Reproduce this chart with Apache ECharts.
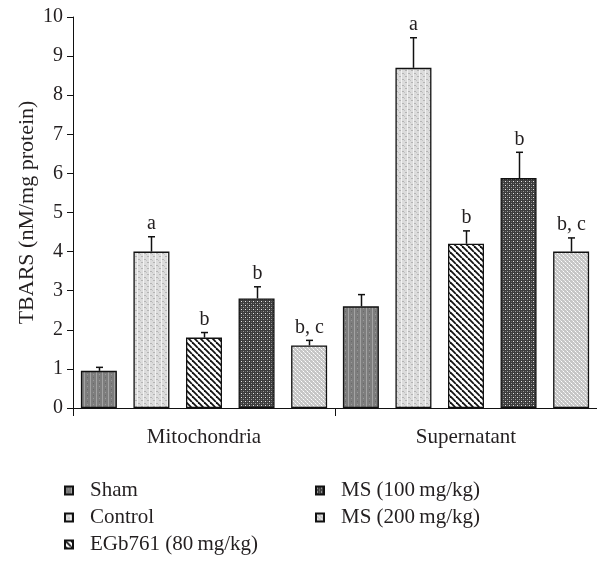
<!DOCTYPE html>
<html>
<head>
<meta charset="utf-8">
<script src="https://cdn.jsdelivr.net/npm/echarts@6/dist/echarts.min.js"></script>
<style>html,body{margin:0;padding:0;background:#fff;}#chart{width:597px;height:561px;}</style>
</head>
<body>
<div id="chart"></div>
<script>
const categories = ['Mitochondria', 'Supernatant'];
const seriesNames = ['Sham', 'Control', 'EGb761 (80\u2009mg/kg)', 'MS (100\u2009mg/kg)', 'MS (200\u2009mg/kg)'];
const shamValues = [0.95, 2.6];
const controlValues = [4.0, 8.7];
const egbValues = [1.8, 4.2];
const ms100Values = [2.8, 5.88];
const ms200Values = [1.6, 4.0];
const shamErr = [0.09, 0.3];
const controlErr = [0.38, 0.77];
const egbErr = [0.13, 0.33];
const ms100Err = [0.3, 0.66];
const ms200Err = [0.13, 0.35];
const shamLetters = ['', ''];
const controlLetters = ['a', 'a'];
const egbLetters = ['b', 'b'];
const ms100Letters = ['b', 'b'];
const ms200Letters = ['b, c', 'b, c'];
const yTicks = [0, 10, 1];

const FONT = '"Liberation Serif", "DejaVu Serif", serif';
const TXT = '#231f20';

function tile(size, draw) {
  const c = document.createElement('canvas');
  c.width = size; c.height = size;
  const ctx = c.getContext('2d');
  draw(ctx, size);
  return { image: c, repeat: 'repeat' };
}
function px(ctx, x, y, col) { ctx.fillStyle = col; ctx.fillRect(x, y, 1, 1); }

const patSham = tile(6, (ctx) => {
  ctx.fillStyle = '#7d7d7d'; ctx.fillRect(0, 0, 6, 6);
  ctx.fillStyle = '#a3a3a3'; ctx.fillRect(0, 0, 1, 6);
  px(ctx, 3, 2, '#9a9a9a'); px(ctx, 3, 5, '#6a6a6a');
});
const patControl = tile(6, (ctx) => {
  ctx.fillStyle = '#dcdcdc'; ctx.fillRect(0, 0, 6, 6);
  ctx.fillStyle = '#b4b4b4'; ctx.fillRect(0, 1, 2, 1); ctx.fillRect(3, 4, 2, 1);
  ctx.fillStyle = '#f2f2f2'; ctx.fillRect(5, 0, 1, 6);
  px(ctx, 2, 2, '#c4c4c4');
});
const patEgb = tile(6, (ctx, s) => {
  ctx.fillStyle = '#ffffff'; ctx.fillRect(0, 0, s, s);
  ctx.strokeStyle = '#111'; ctx.lineWidth = 1.8;
  for (let k = -2; k <= 2; k++) {
    ctx.beginPath(); ctx.moveTo(k * s, 0); ctx.lineTo(k * s + s, s); ctx.stroke();
  }
});
const patMs100 = tile(4, (ctx) => {
  ctx.fillStyle = '#3c3c3c'; ctx.fillRect(0, 0, 4, 4);
  px(ctx, 1, 1, '#e6e6e6'); px(ctx, 3, 3, '#9a9a9a'); px(ctx, 3, 1, '#666'); px(ctx, 1, 3, '#666');
});
const patMs200 = tile(4, (ctx) => {
  ctx.fillStyle = '#c6c6c6'; ctx.fillRect(0, 0, 4, 4);
  px(ctx, 1, 1, '#ffffff'); px(ctx, 3, 3, '#ffffff'); px(ctx, 2, 2, '#e4e4e4'); px(ctx, 0, 0, '#e4e4e4');
});

const patterns = [patSham, patControl, patEgb, patMs100, patMs200];
const valueSets = [shamValues, controlValues, egbValues, ms100Values, ms200Values];
const errSets = [shamErr, controlErr, egbErr, ms100Err, ms200Err];
const letterSets = [shamLetters, controlLetters, egbLetters, ms100Letters, ms200Letters];

const BAR_W = 0.1374;  // fraction of band
const BAR_GAP = 0.46;  // fraction of bar width
const STEP = BAR_W * (1 + BAR_GAP);

const series = [];
seriesNames.forEach((name, i) => {
  series.push({
    name: name,
    type: 'bar',
    data: valueSets[i],
    barWidth: (BAR_W * 100) + '%',
    barGap: (BAR_GAP * 100) + '%',
    itemStyle: { color: patterns[i], borderColor: '#111', borderWidth: 1.3 },
    z: 2
  });
});
seriesNames.forEach((name, i) => {
  series.push({
    type: 'custom',
    name: 'err' + i,
    z: 3,
    data: categories.map((c, j) => [j, valueSets[i][j], errSets[i][j], j]),
    renderItem: function (params, api) {
      const idx = api.value(0);
      const v = api.value(1);
      const e = api.value(2);
      const j = api.value(3);
      const band = api.size([1, 0])[0];
      const base = api.coord([idx, v]);
      const top = api.coord([idx, v + e]);
      const cx = Math.round(base[0] + (i - 2) * STEP * band) + 0.5;
      const cap = 3.5;
      const children = [
        { type: 'line', shape: { x1: cx, y1: base[1], x2: cx, y2: top[1] }, style: { stroke: '#111', lineWidth: 1.5 } },
        { type: 'line', shape: { x1: cx - cap, y1: top[1], x2: cx + cap, y2: top[1] }, style: { stroke: '#111', lineWidth: 1.5 } }
      ];
      const letter = letterSets[i][j];
      if (letter) {
        children.push({ type: 'text', x: cx, y: top[1] - 3,
          style: { text: letter, fill: TXT, font: '20px ' + FONT, align: 'center', verticalAlign: 'bottom' } });
      }
      return { type: 'group', children: children };
    }
  });
});

const legendText = { color: TXT, fontFamily: FONT, fontSize: 21, lineHeight: 21, padding: [0, 0, 0, 12] };
const chart = echarts.init(document.getElementById('chart'), null, { renderer: 'canvas' });
chart.setOption({
  animation: false,
  backgroundColor: '#fff',
  grid: { left: 73, right: 0, top: 17, bottom: 153, containLabel: false },
  xAxis: {
    type: 'category',
    data: categories,
    axisLine: { lineStyle: { color: '#111', width: 1 } },
    axisTick: { show: true, interval: 0, length: 8, lineStyle: { color: '#111' } },
    axisLabel: { color: TXT, fontFamily: FONT, fontSize: 21, margin: 19 }
  },
  yAxis: {
    type: 'value',
    min: yTicks[0], max: yTicks[1], interval: yTicks[2],
    name: 'TBARS (nM/mg protein)',
    nameLocation: 'middle',
    nameGap: 35,
    nameMoveOverlap: false,
    nameTextStyle: { color: TXT, fontFamily: FONT, fontSize: 22 },
    splitLine: { show: false },
    axisLine: { show: true, lineStyle: { color: '#111', width: 1 } },
    axisTick: { show: true, length: 6, lineStyle: { color: '#111' } },
    axisLabel: { color: TXT, fontFamily: FONT, fontSize: 20, margin: 10 }
  },
  legend: [
    { data: seriesNames.slice(0, 3), orient: 'vertical', left: 64, top: 480, icon: 'rect',
      itemWidth: 8, itemHeight: 8, itemGap: 6, padding: 0, textStyle: legendText },
    { data: seriesNames.slice(3), orient: 'vertical', left: 315, top: 480, icon: 'rect',
      itemWidth: 8, itemHeight: 8, itemGap: 6, padding: 0, textStyle: legendText }
  ],
  series: series
});
</script>
</body>
</html>
